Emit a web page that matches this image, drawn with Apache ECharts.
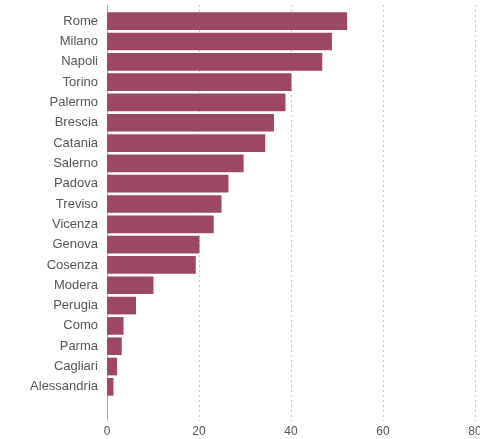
<!DOCTYPE html>
<html>
<head>
<meta charset="utf-8">
<script src="https://cdn.jsdelivr.net/npm/echarts@6/dist/echarts.min.js"></script>
<style>
  html, body { margin: 0; padding: 0; background: #fff; }
  #main { width: 480px; height: 439px; }
</style>
</head>
<body>
<div id="main"></div>
<script>
var cities = ['Rome', 'Milano', 'Napoli', 'Torino', 'Palermo', 'Brescia', 'Catania', 'Salerno',
  'Padova', 'Treviso', 'Vicenza', 'Genova', 'Cosenza', 'Modera', 'Perugia', 'Como', 'Parma',
  'Cagliari', 'Alessandria'];
var values = [52.2, 48.9, 46.8, 40.1, 38.8, 36.3, 34.4, 29.7, 26.4, 24.9, 23.2, 20.1, 19.3,
  10.1, 6.3, 3.6, 3.2, 2.2, 1.4];
var xTicks = [0, 20, 40, 60, 80];

var chart = echarts.init(document.getElementById('main'));
var font = 'Liberation Sans';

var option = {
  animation: false,
  grid: [
    // bars
    { left: 107, right: 5, top: 11, bottom: 42, outerBoundsMode: 'none' },
    // frame: gridlines, x labels and the left axis line
    { left: 107, right: 5, top: 5, bottom: 18, outerBoundsMode: 'none' }
  ],
  xAxis: [
    { gridIndex: 0, type: 'value', min: 0, max: 80, show: false },
    {
      gridIndex: 1, type: 'value', min: xTicks[0], max: xTicks[xTicks.length - 1], interval: 20,
      axisLine: { show: false },
      axisTick: { show: false },
      axisLabel: { color: '#555', fontFamily: font, fontSize: 12, margin: 5 },
      splitLine: { show: true, lineStyle: { color: '#c8c8c8', type: [2, 3], width: 1 } }
    }
  ],
  yAxis: [
    {
      gridIndex: 0, type: 'category', inverse: true, data: cities,
      axisLine: { show: false },
      axisTick: { show: false },
      axisLabel: { color: '#555', fontFamily: font, fontSize: 13, margin: 9 }
    },
    {
      gridIndex: 1, type: 'value', min: 0, max: 1,
      axisLine: { show: true, lineStyle: { color: '#aaa', width: 1 } },
      axisTick: { show: false },
      axisLabel: { show: false },
      splitLine: { show: false }
    }
  ],
  series: [{
    type: 'bar',
    xAxisIndex: 0,
    yAxisIndex: 0,
    data: values,
    barCategoryGap: '13%',
    itemStyle: { color: '#9c4862' }
  }]
};

chart.setOption(option);
</script>
</body>
</html>
